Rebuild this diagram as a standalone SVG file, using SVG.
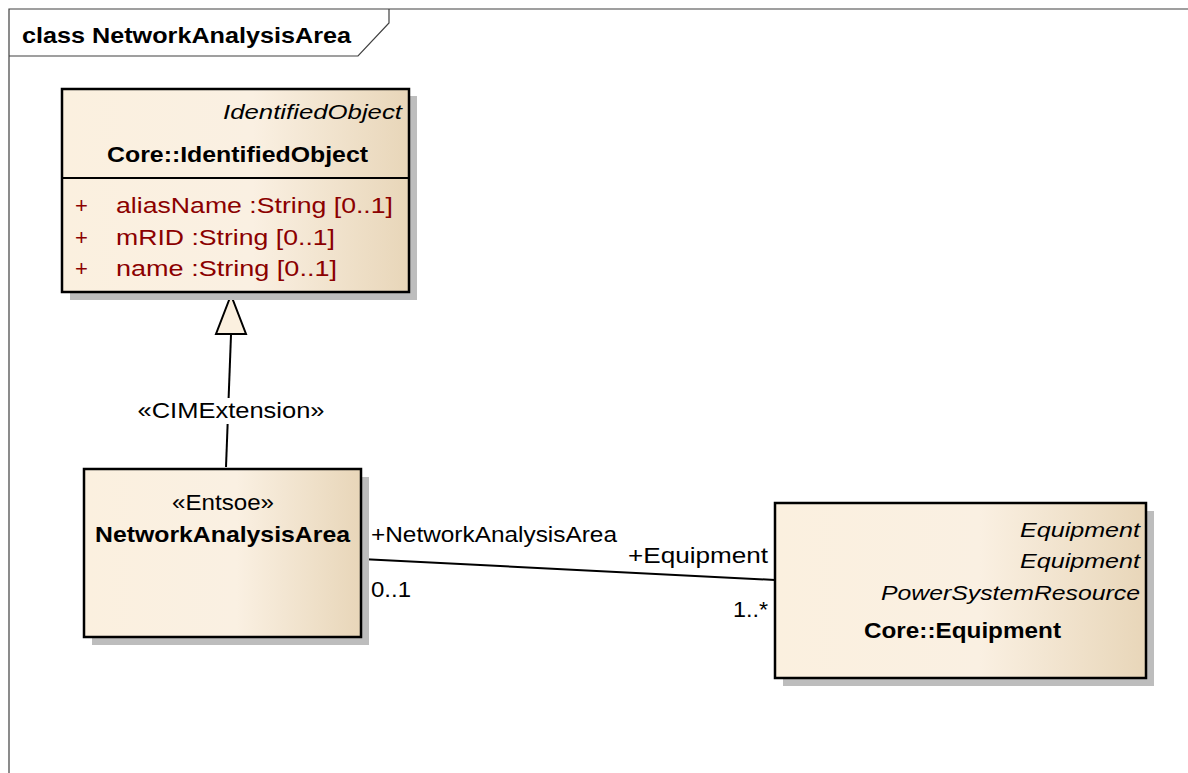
<svg xmlns="http://www.w3.org/2000/svg" width="1188" height="773" viewBox="0 0 1188 773">
<defs>
<linearGradient id="g" x1="0" y1="0" x2="1" y2="0">
<stop offset="0" stop-color="#fbf0df"/>
<stop offset="0.55" stop-color="#faf0e2"/>
<stop offset="1" stop-color="#e8d6b9"/>
</linearGradient>
</defs>
<style>
text{font-family:"Liberation Sans",Arial,sans-serif;font-size:22px;fill:#000}
.b{font-weight:bold;font-size:22px}
.i{font-style:italic;font-size:21px}
.attr{fill:#8b0000}
.box{fill:url(#g);stroke:#000;stroke-width:2.5}
.sh{fill:#bdbdbd}
.ln{stroke:#000;stroke-width:2;fill:none}
</style>
<rect width="1188" height="773" fill="#fff"/>
<g id="frame">
<path d="M9,773 V9 H1188" fill="none" stroke="#404040" stroke-width="1.2"/>
<path d="M9,56 H358 L389,23 V9" fill="none" stroke="#404040" stroke-width="1.2"/>
<text class="b" x="22" y="43" textLength="329" lengthAdjust="spacingAndGlyphs">class NetworkAnalysisArea</text>
</g>
<g id="connectors">
<path class="ln" d="M226,467 L231,335"/>
<rect x="134" y="398" width="192" height="26" fill="#fff"/>
<text x="231" y="418" text-anchor="middle" textLength="187" lengthAdjust="spacingAndGlyphs">«CIMExtension»</text>
<polygon points="231,295 216,334 246,334" fill="#fbf0df" stroke="#000" stroke-width="2"/>
<path class="ln" d="M361,559 L775,580"/>
<text x="371" y="542" textLength="246" lengthAdjust="spacingAndGlyphs">+NetworkAnalysisArea</text>
<text x="371" y="597" textLength="40" lengthAdjust="spacingAndGlyphs">0..1</text>
<text x="628" y="563" textLength="140" lengthAdjust="spacingAndGlyphs">+Equipment</text>
<text x="733" y="617" textLength="35" lengthAdjust="spacingAndGlyphs">1..*</text>
</g>
<g id="IdentifiedObject">
<rect class="sh" x="70" y="96" width="347" height="204"/>
<rect class="box" x="62" y="89" width="347" height="203"/>
<line x1="62" y1="178" x2="409" y2="178" stroke="#000" stroke-width="2"/>
<text class="i" x="402" y="119" text-anchor="end" textLength="179" lengthAdjust="spacingAndGlyphs">IdentifiedObject</text>
<text class="b" x="107" y="162" textLength="261" lengthAdjust="spacingAndGlyphs">Core::IdentifiedObject</text>
<text class="attr" x="75" y="213">+</text>
<text class="attr" x="116" y="213" textLength="277" lengthAdjust="spacingAndGlyphs">aliasName  :String [0..1]</text>
<text class="attr" x="75" y="245">+</text>
<text class="attr" x="116" y="245" textLength="219" lengthAdjust="spacingAndGlyphs">mRID  :String [0..1]</text>
<text class="attr" x="75" y="276">+</text>
<text class="attr" x="116" y="276" textLength="221" lengthAdjust="spacingAndGlyphs">name  :String [0..1]</text>
</g>
<g id="NetworkAnalysisArea">
<rect class="sh" x="92" y="477" width="277" height="168"/>
<rect class="box" x="84" y="469" width="277" height="168"/>
<text x="172" y="510" textLength="102" lengthAdjust="spacingAndGlyphs">«Entsoe»</text>
<text class="b" x="95" y="542" textLength="255" lengthAdjust="spacingAndGlyphs">NetworkAnalysisArea</text>
</g>
<g id="Equipment">
<rect class="sh" x="783" y="511" width="371" height="175"/>
<rect class="box" x="775" y="503" width="371" height="175"/>
<text class="i" x="1140" y="537" text-anchor="end" textLength="120" lengthAdjust="spacingAndGlyphs">Equipment</text>
<text class="i" x="1140" y="568" text-anchor="end" textLength="120" lengthAdjust="spacingAndGlyphs">Equipment</text>
<text class="i" x="1140" y="600" text-anchor="end" textLength="259" lengthAdjust="spacingAndGlyphs">PowerSystemResource</text>
<text class="b" x="864" y="638" textLength="197" lengthAdjust="spacingAndGlyphs">Core::Equipment</text>
</g>
</svg>
